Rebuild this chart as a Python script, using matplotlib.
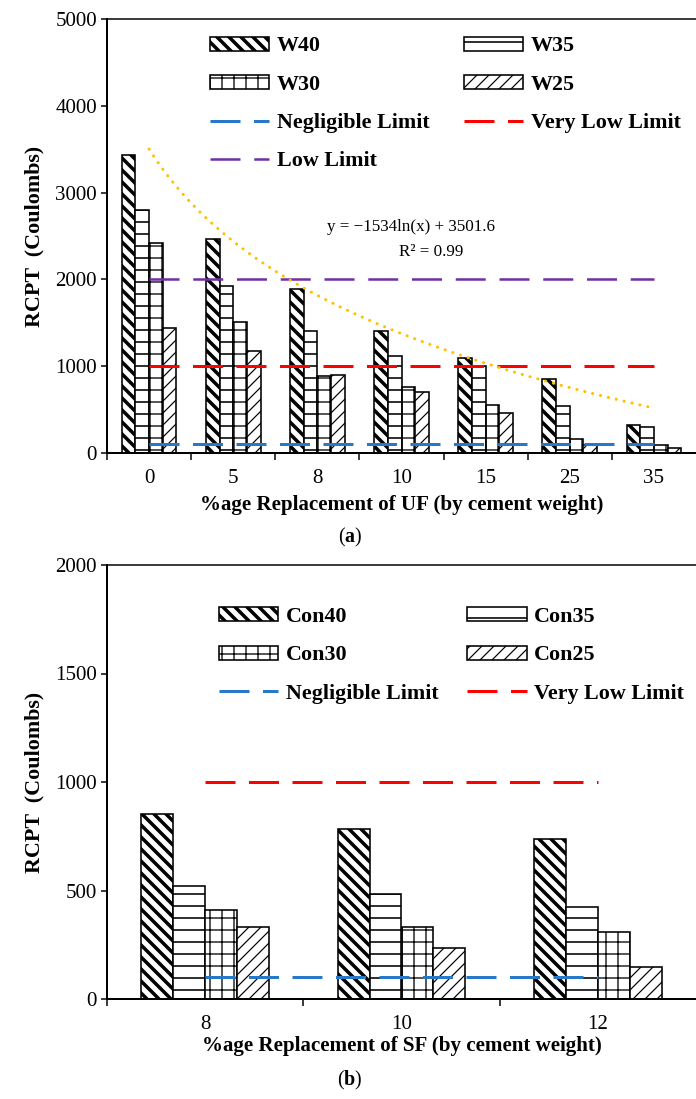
import numpy as np
import matplotlib
matplotlib.use("Agg")
import matplotlib.pyplot as plt

plt.rcParams['font.family'] = ['Liberation Serif', 'DejaVu Serif']
plt.rcParams['mathtext.fontset'] = 'custom'
plt.rcParams['mathtext.rm'] = 'Liberation Serif'
plt.rcParams['mathtext.bf'] = 'Liberation Serif:bold'
plt.rcParams['hatch.color'] = 'black'

# ---------------- data ----------------
uf_levels = ['0', '5', '8', '10', '15', '25', '35']
W40 = [3430, 2460, 1885, 1400, 1100, 850, 320]
W35 = [2805, 1925, 1400, 1115, 1005, 540, 295]
W30 = [2420, 1505, 890, 755, 552, 160, 90]
W25 = [1435, 1180, 895, 700, 462, 96, 58]
uf_series = {'W40': W40, 'W35': W35, 'W30': W30, 'W25': W25}

sf_levels = ['8', '10', '12']
Con40 = [851, 782, 738]
Con35 = [522, 482, 423]
Con30 = [411, 332, 311]
Con25 = [331, 234, 148]
sf_series = {'Con40': Con40, 'Con35': Con35, 'Con30': Con30, 'Con25': Con25}

negligible_limit = 100
very_low_limit = 1000
low_limit = 2000

trend_a = -1534
trend_b = 3501.6
trend_label = 'y = \u22121534ln(x) + 3501.6'
r2_label = 'R\u00b2 = 0.99'

# ---------------- styles ----------------
hatches = ['\\\\', '-', '+', '//']
hatch_lw = [3.5, 1.6, 1.3, 1.2]
c_blue = '#2878C8'
c_red = '#FF0000'
c_purple = '#7030A0'
c_gold = '#FFC000'
TICK_FS = 21
LAB_FS = 21
LEG_FS = 22

W, H = 696, 1099
fig = plt.figure(figsize=(W / 72, H / 72), dpi=72)
ax1 = fig.add_axes([107 / W, 1 - 453 / H, 589 / W, 434 / H])
ax2 = fig.add_axes([107 / W, 1 - 999 / H, 589 / W, 434 / H])


def draw_bars(ax, series, ncat):
    x = np.arange(ncat)
    bw = 0.65 / 4
    handles = []
    for i, (name, vals) in enumerate(series.items()):
        with plt.rc_context({'hatch.linewidth': hatch_lw[i]}):
            bars = ax.bar(x + (i - 1.5) * bw, vals, bw, color='white',
                          edgecolor='black', linewidth=1.6, hatch=hatches[i],
                          label=name, zorder=2)
        for b in bars:
            if hasattr(b, 'set_hatch_linewidth'):
                b.set_hatch_linewidth(hatch_lw[i])
        handles.append(bars)
    return handles


def style_axes(ax, ncat, labels, ymax, ystep):
    ax.set_xlim(-0.5, ncat - 0.5)
    ax.set_ylim(0, ymax)
    ax.set_yticks(np.arange(0, ymax + 1, ystep))
    ax.set_xticks(np.arange(ncat))
    ax.set_xticklabels(labels)
    ax.set_xticks(np.arange(ncat) - 0.5, minor=True)
    ax.tick_params(axis='x', which='major', length=0, pad=16, labelsize=TICK_FS)
    ax.tick_params(axis='x', which='minor', length=7, width=1.5, direction='out')
    ax.tick_params(axis='y', length=6, width=1.5, direction='out', pad=4,
                   labelsize=TICK_FS)
    ax.spines['right'].set_visible(False)
    ax.spines['left'].set_linewidth(2)
    ax.spines['bottom'].set_linewidth(2)
    ax.spines['top'].set_linewidth(1.5)
    ax.set_ylabel('RCPT  (Coulombs)', fontsize=22, fontweight='bold',
                  labelpad=11)


def fix_leg(leg, order):
    for h, idx in zip(leg.legend_handles, order):
        if idx is not None and hasattr(h, 'set_hatch_linewidth'):
            h.set_hatch_linewidth(hatch_lw[idx])


leg_kw = dict(ncol=2, loc='upper left', frameon=False, borderpad=0,
              borderaxespad=0, handlelength=2.7, handleheight=0.6,
              handletextpad=0.35, labelspacing=0.83,
              prop={'weight': 'bold', 'size': LEG_FS})

# ---------- top chart ----------
n1 = len(uf_levels)
h1 = draw_bars(ax1, uf_series, n1)
x1 = np.arange(n1)
dash = (10, 4.5)
l_neg, = ax1.plot([x1[0], x1[-1]], [negligible_limit] * 2, color=c_blue, lw=3,
                  dashes=dash, label='Negligible Limit', zorder=3)
l_vl, = ax1.plot([x1[0], x1[-1]], [very_low_limit] * 2, color=c_red, lw=3,
                 dashes=dash, label='Very Low Limit', zorder=3)
l_low, = ax1.plot([x1[0], x1[-1]], [low_limit] * 2, color=c_purple, lw=2.5,
                  dashes=(12, 5.5), label='Low Limit', zorder=3)
xt = np.linspace(x1[0], x1[-1], 200)
ax1.plot(xt, trend_a * np.log(xt + 1) + trend_b, color=c_gold, lw=3,
         linestyle=(0, (0.1, 2.6)), dash_capstyle='round', zorder=4)
ax1.text(3.11, 2600, trend_label, ha='center', va='center', fontsize=17)
ax1.text(3.35, 2310, r2_label, ha='center', va='center', fontsize=17)
style_axes(ax1, n1, uf_levels, 5000, 1000)
ax1.set_xlabel('%age Replacement of UF (by cement weight)', fontsize=LAB_FS,
               fontweight='bold', labelpad=7)

leg_handles = [h1[0], h1[2], l_neg, l_low, h1[1], h1[3], l_vl]
leg1 = ax1.legend(handles=leg_handles, bbox_to_anchor=(0.175, 0.96),
                  columnspacing=1.55, **leg_kw)
fix_leg(leg1, [0, 2, None, None, 1, 3, None])

# ---------- bottom chart ----------
n2 = len(sf_levels)
h2 = draw_bars(ax2, sf_series, n2)
x2 = np.arange(n2)
l_neg2, = ax2.plot([x2[0], x2[-1]], [negligible_limit] * 2, color=c_blue, lw=3,
                   dashes=dash, label='Negligible Limit', zorder=3)
l_vl2, = ax2.plot([x2[0], x2[-1]], [very_low_limit] * 2, color=c_red, lw=3,
                  dashes=dash, label='Very Low Limit', zorder=3)
style_axes(ax2, n2, sf_levels, 2000, 500)
ax2.set_xlabel('%age Replacement of SF (by cement weight)', fontsize=LAB_FS,
               fontweight='bold', labelpad=2)
leg_handles2 = [h2[0], h2[2], l_neg2, h2[1], h2[3], l_vl2]
leg2 = ax2.legend(handles=leg_handles2, bbox_to_anchor=(0.19, 0.903),
                  columnspacing=1.3, **leg_kw)
fix_leg(leg2, [0, 2, None, 1, 3, None])

fig.text(350 / W, 1 - 537 / H, r'($\mathbf{a}$)', ha='center', va='center',
         fontsize=20)
fig.text(350 / W, 1 - 1080 / H, r'($\mathbf{b}$)', ha='center', va='center',
         fontsize=20)

fig.savefig('out.png', dpi=72)
